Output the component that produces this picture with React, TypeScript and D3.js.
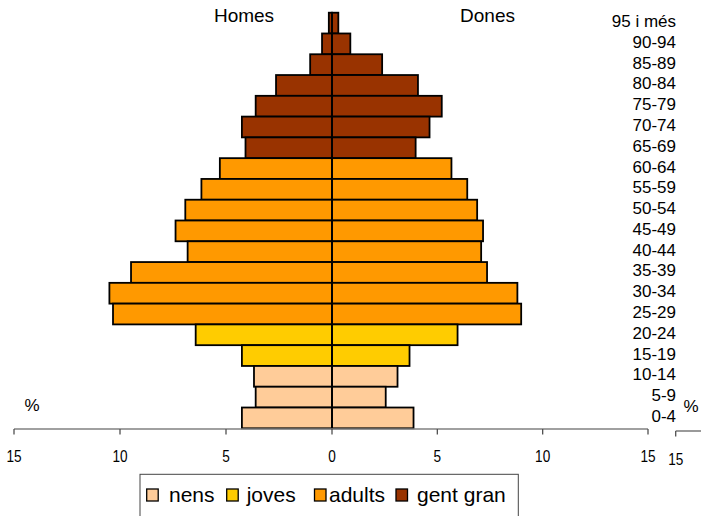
import React from "react";
import * as d3 from "d3";

const ages = ["95 i més","90-94","85-89","80-84","75-79","70-74","65-69","60-64","55-59","50-54","45-49","40-44","35-39","30-34","25-29","20-24","15-19","10-14","5-9","0-4"];
const homes = [0.15,0.47,1.03,2.64,3.6,4.25,4.08,5.29,6.16,6.92,7.38,6.81,9.48,10.5,10.33,6.43,4.25,3.68,3.6,4.25];
const dones = [0.3,0.87,2.38,4.08,5.21,4.63,3.97,5.67,6.42,6.89,7.17,7.08,7.36,8.8,8.98,5.96,3.68,3.11,2.55,3.87];
const groupOf = ["gent gran","gent gran","gent gran","gent gran","gent gran","gent gran","gent gran","adults","adults","adults","adults","adults","adults","adults","adults","joves","joves","nens","nens","nens"];
const groups = ["nens","joves","adults","gent gran"];
const groupColors = ["#FFCC99","#FFCC00","#FF9900","#993300"];
const leftTicks = [15,10,5,0];
const rightTicks = [5,10,15];

const FONT = "'Liberation Sans', Arial, Helvetica, sans-serif";

function TickLabel({ x, y, text }: { x: number; y: number; text: string }) {
  return (
    <text x={0} y={0} fontSize={17} textAnchor="middle" transform={`translate(${x},${y}) scale(0.8,1)`}>{text}</text>
  );
}

export default function App() {
  const W = 701, H = 516;
  const xL = d3.scaleLinear().domain([0, 15]).range([332, 14]);
  const xR = d3.scaleLinear().domain([0, 15]).range([332, 648]);
  const xExtra = d3.scaleLinear().domain([15, 0]).range([675.7, 993]);
  const y = d3.scaleBand<string>().domain(ages).range([12.7, 428.3]).padding(0);
  const color = d3.scaleOrdinal<string, string>().domain(groups).range(groupColors);
  const axisY = 429;
  const bw = y.bandwidth();

  const legendX = [146.7, 226.7, 314.5, 396];
  const legendTextX = [169, 246.7, 329, 417];

  return (
    <svg width={W} height={H} style={{ position: "absolute", left: 0, top: 0, background: "#fff" }} fontFamily={FONT}>
      {ages.map((a, i) => (
        <g key={a}>
          <rect x={xL(homes[i])} y={y(a)} width={xL(0) - xL(homes[i])} height={bw}
            fill={color(groupOf[i])} stroke="#000" strokeWidth={1.8} />
          <rect x={xR(0)} y={y(a)} width={xR(dones[i]) - xR(0)} height={bw}
            fill={color(groupOf[i])} stroke="#000" strokeWidth={1.8} />
        </g>
      ))}
      <line x1={332} x2={332} y1={y(ages[0])} y2={axisY} stroke="#000" strokeWidth={2} />

      <line x1={xL(15)} x2={xR(15)} y1={axisY} y2={axisY} stroke="#808080" strokeWidth={1.6} />
      {leftTicks.map(t => (
        <g key={"l" + t}>
          <line x1={xL(t)} x2={xL(t)} y1={axisY} y2={axisY + 5.5} stroke="#505050" strokeWidth={1.3} />
          <TickLabel x={xL(t)} y={462} text={String(t)} />
        </g>
      ))}
      {rightTicks.map(t => (
        <g key={"r" + t}>
          <line x1={xR(t)} x2={xR(t)} y1={axisY} y2={axisY + 5.5} stroke="#505050" strokeWidth={1.3} />
          <TickLabel x={xR(t)} y={462} text={String(t)} />
        </g>
      ))}
      <line x1={xExtra(15)} x2={W} y1={axisY + 2} y2={axisY + 2} stroke="#808080" strokeWidth={1.6} />
      <line x1={xExtra(15)} x2={xExtra(15)} y1={axisY + 2} y2={axisY + 7.5} stroke="#505050" strokeWidth={1.3} />
      <TickLabel x={xExtra(15)} y={465} text="15" />

      <text x={32} y={411} fontSize={17} textAnchor="middle">%</text>
      <text x={691} y={412} fontSize={17} textAnchor="middle">%</text>

      <text x={244} y={21.7} fontSize={19} textAnchor="middle">Homes</text>
      <text x={487.5} y={21.7} fontSize={19} textAnchor="middle">Dones</text>

      {ages.map(a => (
        <text key={"t" + a} x={676} y={(y(a) as number) + bw / 2 + 4} fontSize={17} textAnchor="end">{a}</text>
      ))}

      <rect x={140} y={474.3} width={378.3} height={60} fill="#fff" stroke="#444" strokeWidth={1} />
      {groups.map((g, i) => (
        <g key={g}>
          <rect x={legendX[i]} y={489} width={11.5} height={12} fill={groupColors[i]} stroke="#000" strokeWidth={1.3} />
          <text x={legendTextX[i]} y={501.5} fontSize={21}>{g}</text>
        </g>
      ))}
    </svg>
  );
}
